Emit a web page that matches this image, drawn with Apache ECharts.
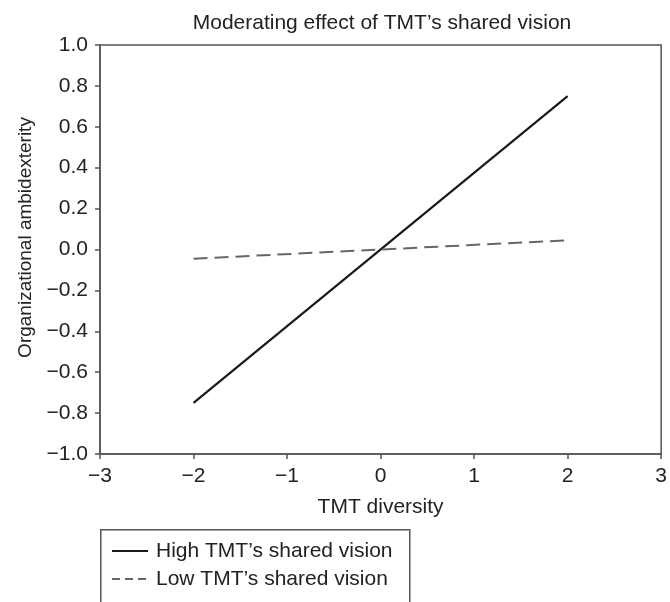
<!DOCTYPE html>
<html>
<head>
<meta charset="utf-8">
<script src="https://cdn.jsdelivr.net/npm/echarts@6/dist/echarts.min.js"></script>
<style>html,body{margin:0;padding:0;background:#fff;}#chart{width:670px;height:602px;}</style>
</head>
<body>
<div id="chart"></div>
<script>
var chartTitle = "Moderating effect of TMT\u2019s shared vision";
var xAxisTitle = "TMT diversity";
var yAxisTitle = "Organizational ambidexterity";
var seriesNames = ["High TMT\u2019s shared vision", "Low TMT\u2019s shared vision"];
var xValues = [-2, 2];
var highValues = [-0.75, 0.75];
var lowValues = [-0.045, 0.045];
var xTicks = [-3, -2, -1, 0, 1, 2, 3];
var xTickLabels = ["\u22123", "\u22122", "\u22121", "0", "1", "2", "3"];
var yTicks = [-1.0, -0.8, -0.6, -0.4, -0.2, 0.0, 0.2, 0.4, 0.6, 0.8, 1.0];
var yTickLabels = ["\u22121.0", "\u22120.8", "\u22120.6", "\u22120.4", "\u22120.2", "0.0", "0.2", "0.4", "0.6", "0.8", "1.0"];

function pairs(xs, ys) { return xs.map(function (x, i) { return [x, ys[i]]; }); }
function lookup(ticks, labels, v) {
  for (var i = 0; i < ticks.length; i++) { if (Math.abs(ticks[i] - v) < 1e-9) return labels[i]; }
  return "";
}
var font = "'Liberation Sans', Arial, Helvetica, sans-serif";
var textColor = "#222";
var axisColor = "#555";
var highStyle = { color: '#1a1a1a', width: 2.2, type: 'solid' };
var lowStyle = { color: '#666', width: 2, type: [14, 7] };

var chart = echarts.init(document.getElementById('chart'));
chart.setOption({
  animation: false,
  backgroundColor: '#fff',
  title: {
    text: chartTitle, left: 382, top: 13, padding: 0, textAlign: 'center',
    textStyle: { fontFamily: font, fontSize: 21, fontWeight: 'normal', color: textColor }
  },
  grid: { left: 100, right: 6, top: 45, bottom: 148, show: true, borderColor: axisColor, borderWidth: 1.5, backgroundColor: 'transparent' },
  xAxis: {
    type: 'value', min: -3, max: 3, interval: 1,
    name: xAxisTitle, nameLocation: 'middle', nameGap: 43,
    nameTextStyle: { fontFamily: font, fontSize: 21, color: textColor },
    axisLine: { show: true, onZero: false, lineStyle: { color: axisColor, width: 1.5 } },
    axisTick: { show: true, inside: false, length: 5, lineStyle: { color: axisColor, width: 1.5 } },
    splitLine: { show: false },
    axisLabel: { margin: 12, fontFamily: font, fontSize: 21, color: textColor,
      formatter: function (v) { return lookup(xTicks, xTickLabels, v); } }
  },
  yAxis: {
    type: 'value', min: -1, max: 1, interval: 0.2,
    name: yAxisTitle, nameLocation: 'middle', nameGap: 64, nameRotate: 90,
    nameTextStyle: { fontFamily: font, fontSize: 19, color: textColor, padding: [0, 0, 0, 24] },
    axisLine: { show: true, onZero: false, lineStyle: { color: axisColor, width: 1.5 } },
    axisTick: { show: true, inside: false, length: 5, lineStyle: { color: axisColor, width: 1.5 } },
    splitLine: { show: false },
    axisLabel: { margin: 12, fontFamily: font, fontSize: 21, color: textColor,
      formatter: function (v) { return lookup(yTicks, yTickLabels, v); } }
  },
  graphic: [
    { type: 'rect', left: 100, top: 529, shape: { width: 309, height: 100 },
      style: { fill: 'transparent', stroke: axisColor, lineWidth: 1.5 } },
    { type: 'line', shape: { x1: 112, y1: 551, x2: 148, y2: 551 },
      style: { stroke: highStyle.color, lineWidth: highStyle.width } },
    { type: 'text', x: 156, y: 551,
      style: { text: seriesNames[0], fill: textColor, font: '21px ' + font, textVerticalAlign: 'middle', verticalAlign: 'middle' } },
    { type: 'line', shape: { x1: 112, y1: 579, x2: 148, y2: 579 },
      style: { stroke: lowStyle.color, lineWidth: lowStyle.width, lineDash: [8, 5] } },
    { type: 'text', x: 156, y: 579,
      style: { text: seriesNames[1], fill: textColor, font: '21px ' + font, textVerticalAlign: 'middle', verticalAlign: 'middle' } }
  ],
  series: [
    { name: seriesNames[0], type: 'line', data: pairs(xValues, highValues), showSymbol: false, symbol: 'none',
      lineStyle: highStyle, itemStyle: { color: highStyle.color } },
    { name: seriesNames[1], type: 'line', data: pairs(xValues, lowValues), showSymbol: false, symbol: 'none',
      lineStyle: lowStyle, itemStyle: { color: lowStyle.color } }
  ]
});
</script>
</body>
</html>
